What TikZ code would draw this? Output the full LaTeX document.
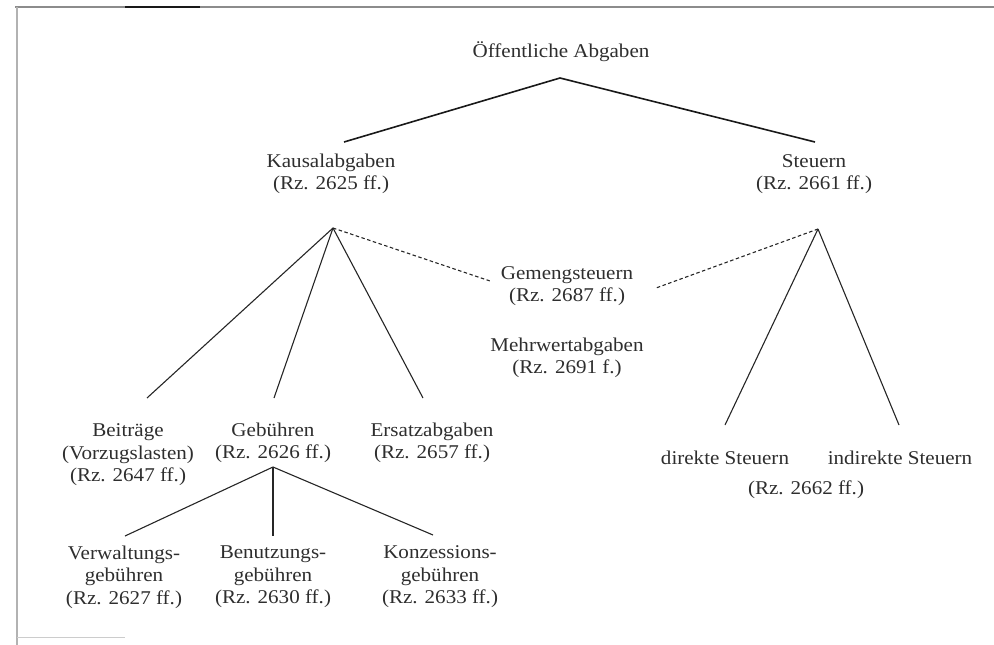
\documentclass[tikz,border=0pt]{standalone}
\usepackage{fontspec}
\setmainfont{Liberation Serif}[FakeStretch=1.08]
\begin{document}
\begin{tikzpicture}[x=1pt,y=-1pt,
  lbl/.style={inner sep=0pt,align=center,text=black!82,
    font=\fontsize{19.5}{22.5}\selectfont},
  conn/.style={draw=black!85,line width=1.1pt},
  thick conn/.style={draw=black!90,line width=1.6pt},
  dconn/.style={draw=black!85,line width=1.1pt,dash pattern=on 3.5pt off 2.5pt},
  frame/.style={draw=black!45,line width=1.2pt}]
\useasboundingbox (0,0) rectangle (994,645);
% scanned frame
\draw[frame] (15,7) -- (994,7);
\draw[draw=black!90,line width=1.4pt] (125,7) -- (200,7);
\draw[draw=black!30,line width=1.4pt] (17,7) -- (17,645);
\draw[draw=black!20,line width=1pt] (17,637) -- (125,637);
% nodes
\node[lbl] (oa) at (561,52) {Öffentliche Abgaben};
\node[lbl] (ka) at (331,174) {Kausalabgaben\\(Rz. 2625 ff.)};
\node[lbl] (st) at (814,174) {Steuern\\(Rz. 2661 ff.)};
\node[lbl] (gm) at (567,286) {Gemengsteuern\\(Rz. 2687 ff.)};
\node[lbl] (mw) at (567,358) {Mehrwertabgaben\\(Rz. 2691 f.)};
\node[lbl] (bt) at (128,455) {Beiträge\\(Vorzugslasten)\\(Rz. 2647 ff.)};
\node[lbl] (gb) at (273,443) {Gebühren\\(Rz. 2626 ff.)};
\node[lbl] (ea) at (432,443) {Ersatzabgaben\\(Rz. 2657 ff.)};
\node[lbl] (ds) at (725,458) {direkte Steuern};
\node[lbl] (is) at (900,458) {indirekte Steuern};
\node[lbl] (rz) at (806,490) {(Rz. 2662 ff.)};
\node[lbl] (vg) at (124,577) {Verwaltungs-\\gebühren\\(Rz. 2627 ff.)};
\node[lbl] (bg) at (273,577) {Benutzungs-\\gebühren\\(Rz. 2630 ff.)};
\node[lbl] (kg) at (440,577) {Konzessions-\\gebühren\\(Rz. 2633 ff.)};
% connector end points
\coordinate (oa-b) at (560,78);
\coordinate (ka-t) at (344,142);
\coordinate (st-t) at (815,142);
\coordinate (ka-b) at (333,228);
\coordinate (st-b) at (818,229);
\coordinate (bt-t) at (147,398);
\coordinate (gb-t) at (274,398);
\coordinate (ea-t) at (423,398);
\coordinate (gm-l) at (490,281);
\coordinate (gm-r) at (656,288);
\coordinate (ds-t) at (725,425);
\coordinate (is-t) at (899,425);
\coordinate (gb-b) at (273,467);
\coordinate (vg-t) at (125,536);
\coordinate (bg-t) at (273,536);
\coordinate (kg-t) at (433,535);
% connectors
\draw[thick conn] (ka-t) -- (oa-b) -- (st-t);
\draw[conn] (ka-b) -- (bt-t);
\draw[conn] (ka-b) -- (gb-t);
\draw[conn] (ka-b) -- (ea-t);
\draw[dconn] (ka-b) -- (gm-l);
\draw[dconn] (st-b) -- (gm-r);
\draw[conn] (st-b) -- (ds-t);
\draw[conn] (st-b) -- (is-t);
\draw[conn] (gb-b) -- (vg-t);
\draw[conn] (gb-b) -- (bg-t);
\draw[conn] (gb-b) -- (kg-t);
\end{tikzpicture}
\end{document}
